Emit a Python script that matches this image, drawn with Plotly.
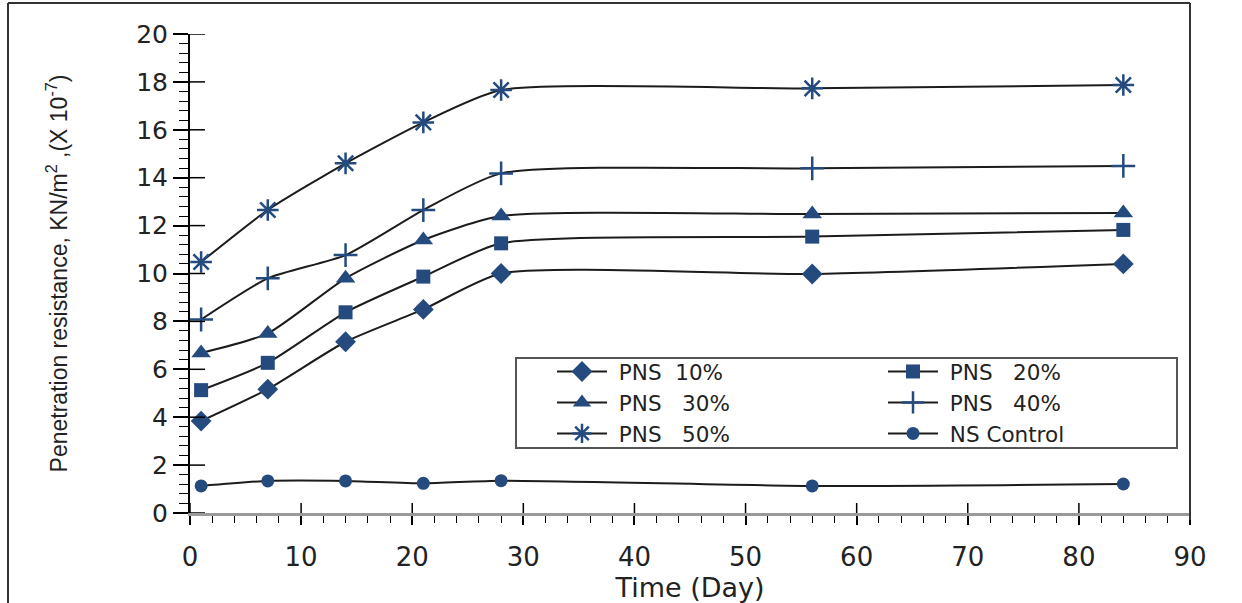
import plotly.graph_objects as go

# ---- data ----
days = [1, 7, 14, 21, 28, 56, 84]
pns10 = [3.84, 5.17, 7.15, 8.50, 10.00, 9.98, 10.40]
pns20 = [5.13, 6.27, 8.38, 9.87, 11.26, 11.54, 11.82]
pns30 = [6.68, 7.50, 9.80, 11.40, 12.40, 12.48, 12.53]
pns40 = [8.08, 9.80, 10.77, 12.65, 14.18, 14.39, 14.49]
pns50 = [10.48, 12.65, 14.60, 16.31, 17.66, 17.73, 17.87]
control = [1.13, 1.34, 1.34, 1.24, 1.35, 1.13, 1.21]

series_names = ["\u00a0PNS\u00a0\u00a010%", "\u00a0PNS\u00a0\u00a0\u00a020%", "\u00a0PNS\u00a0\u00a0\u00a030%",
                "\u00a0PNS\u00a0\u00a0\u00a040%", "\u00a0PNS\u00a0\u00a0\u00a050%", "\u00a0NS Control"]
series_values = [pns10, pns20, pns30, pns40, pns50, control]

x_ticks = [0, 10, 20, 30, 40, 50, 60, 70, 80, 90]
y_ticks = [0, 2, 4, 6, 8, 10, 12, 14, 16, 18, 20]

# ---- styles ----
MC = "#254A7E"
LC = "#1c1c1c"
styles = [
    dict(symbol="diamond", size=16, color=MC, line=dict(width=0)),
    dict(symbol="square", size=14, color=MC, line=dict(width=0)),
    dict(symbol="triangle-up", size=17, color=MC, line=dict(width=0)),
    dict(symbol="cross-thin", size=17, color=MC, line=dict(width=2.5, color=MC)),
    dict(symbol="asterisk", size=18, color=MC, line=dict(width=2.5, color=MC)),
    dict(symbol="circle", size=13, color=MC, line=dict(width=0)),
]
legend_ids = ["legend", "legend2", "legend", "legend2", "legend", "legend2"]

fig = go.Figure()
for name, vals, mk, lg in zip(series_names, series_values, styles, legend_ids):
    fig.add_trace(go.Scatter(
        x=days, y=vals, name=name, mode="lines+markers",
        line=dict(color=LC, width=2, shape="spline", smoothing=0.6),
        marker=mk, legend=lg,
    ))

W, H = 1242, 603
L, R, T, B = 190, 52, 34, 90
pw, ph = W - L - R, H - T - B

def px_x(p):
    return (p - L) / pw

def px_y(p):
    return (H - B - p) / ph

shapes = []
# inside halves of the crossing major ticks
for v in y_ticks:
    shapes.append(dict(type="line", xref="paper", yref="y", x0=0, x1=15 / pw, y0=v, y1=v,
                       line=dict(color="black", width=1.5)))
for v in x_ticks:
    shapes.append(dict(type="line", xref="x", yref="paper", x0=v, x1=v, y0=0, y1=10 / ph,
                       line=dict(color="black", width=1.5)))
# legend frame
shapes.append(dict(type="rect", xref="paper", yref="paper",
                   x0=px_x(516), x1=px_x(1177), y0=px_y(448), y1=px_y(358),
                   line=dict(color="#555", width=2), fillcolor="white", layer="below"))
# picture frame
shapes.append(dict(type="line", xref="paper", yref="paper", x0=px_x(8), x1=px_x(8),
                   y0=px_y(3), y1=px_y(603), line=dict(color="#333", width=2)))
shapes.append(dict(type="line", xref="paper", yref="paper", x0=px_x(8), x1=px_x(1190),
                   y0=px_y(3), y1=px_y(3), line=dict(color="#333", width=2)))
shapes.append(dict(type="line", xref="paper", yref="paper", x0=1, x1=1,
                   y0=px_y(520), y1=px_y(3), line=dict(color="#333", width=2)))

legend_common = dict(font=dict(family="DejaVu Sans", size=21.5, color="#222"),
                     bgcolor="rgba(0,0,0,0)", borderwidth=0, itemwidth=50,
                     xanchor="left", yanchor="top", tracegroupgap=0)

fig.update_layout(
    width=W, height=H,
    margin=dict(l=L, r=R, t=T, b=B, autoexpand=False),
    paper_bgcolor="white", plot_bgcolor="white",
    showlegend=True,
    legend=dict(x=px_x(552), y=px_y(351), **legend_common),
    legend2=dict(x=px_x(883), y=px_y(351), **legend_common),
    xaxis=dict(
        range=[0, 90], tickvals=x_ticks, ticktext=[str(v) for v in x_ticks],
        showgrid=False, zeroline=False, showline=True, linecolor="#9a9a9a", linewidth=3,
        ticks="outside", ticklen=9, tickwidth=1.5, tickcolor="black",
        minor=dict(dtick=2, ticks="outside", ticklen=7, tickwidth=1.2, tickcolor="black", showgrid=False),
        tickfont=dict(family="DejaVu Sans", size=26, color="#222"),
        ticklabelstandoff=10,
        title=dict(text="Time (Day)", font=dict(family="DejaVu Sans", size=27, color="#222"), standoff=0),
    ),
    yaxis=dict(
        range=[0, 20], tickvals=y_ticks, ticktext=[str(v) for v in y_ticks],
        showgrid=False, zeroline=False, showline=True, linecolor="black", linewidth=2,
        ticks="outside", ticklen=15, tickwidth=1.5, tickcolor="black",
        minor=dict(dtick=0.4, ticks="outside", ticklen=9, tickwidth=1.2, tickcolor="black", showgrid=False),
        tickfont=dict(family="DejaVu Sans", size=25, color="#222"),
        title=dict(text="Penetration resistance, KN/m<sup>2</sup> ,(X 10<sup>-7</sup>)",
                   font=dict(family="Liberation Sans", size=23, color="#222"),
                   standoff=62),
    ),
    shapes=shapes,
)

fig.write_html("out.html")
